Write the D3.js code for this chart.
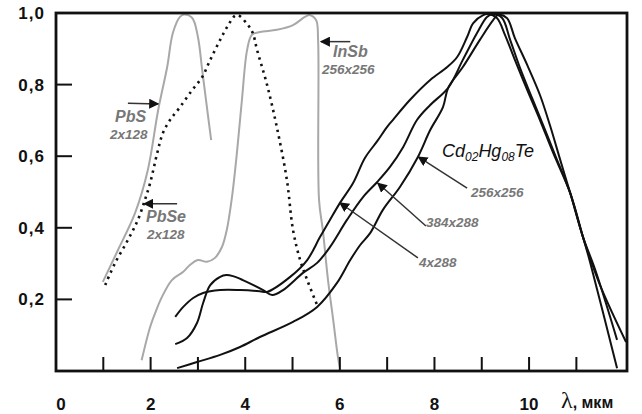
<!DOCTYPE html>
<html>
<head>
<meta charset="utf-8">
<script src="https://cdn.jsdelivr.net/npm/d3@7"></script>
<style>
  body { margin: 0; background: #fff; }
  text { font-family: Arial, "Liberation Sans", sans-serif; }
</style>
</head>
<body>
<svg width="642" height="414"></svg>
<script>
// tick values / labels
let xTicks = [1, 2, 3, 4, 5, 6, 7, 8, 9, 10, 11];
let xLabels = [0, 2, 4, 6, 8, 10];
let yTicks = [0.2, 0.4, 0.6, 0.8];
let yLabels = [0.2, 0.4, 0.6, 0.8, 1.0];

// spectral curves, [lambda, relative response]
let pbs = [[0.99, 0.249], [1.31, 0.338], [1.67, 0.441], [1.94, 0.561], [2.16, 0.729],
  [2.35, 0.849], [2.47, 0.944], [2.62, 0.989], [2.71, 0.996], [2.88, 0.986],
  [3.0, 0.933], [3.09, 0.841], [3.19, 0.737], [3.28, 0.645]];
let pbse = [[1.04, 0.24], [1.25, 0.302], [1.52, 0.366], [1.73, 0.422], [1.88, 0.478],
  [1.99, 0.525], [2.14, 0.609], [2.26, 0.665], [2.41, 0.701], [2.62, 0.737],
  [2.88, 0.785], [3.09, 0.821], [3.26, 0.869], [3.47, 0.925], [3.64, 0.966],
  [3.78, 0.992], [3.85, 0.994], [4.06, 0.966], [4.16, 0.944], [4.25, 0.897],
  [4.46, 0.8], [4.67, 0.68], [4.88, 0.534], [5.01, 0.394], [5.16, 0.31],
  [5.31, 0.254], [5.52, 0.184]];
let insb = [[1.81, 0.03], [1.99, 0.123], [2.12, 0.17], [2.24, 0.207], [2.45, 0.254],
  [2.69, 0.277], [2.83, 0.296], [3.0, 0.31], [3.19, 0.305], [3.36, 0.316],
  [3.51, 0.347], [3.61, 0.394], [3.72, 0.486], [3.83, 0.617], [3.93, 0.757],
  [4.04, 0.897], [4.14, 0.939], [4.31, 0.947], [4.67, 0.953], [5.01, 0.966],
  [5.26, 0.989], [5.37, 0.994], [5.5, 0.98], [5.54, 0.925], [5.56, 0.478],
  [5.64, 0.394], [5.75, 0.254], [5.86, 0.142], [5.96, 0.039], [6.0, 0.011]];
let cmt4x288 = [[2.52, 0.151], [2.69, 0.179], [2.9, 0.204], [3.11, 0.218], [3.47, 0.226],
  [3.89, 0.226], [4.31, 0.223], [4.46, 0.221], [4.95, 0.263], [5.31, 0.31],
  [5.58, 0.374], [5.79, 0.422], [6.0, 0.469], [6.28, 0.525], [6.53, 0.595],
  [6.79, 0.642], [7.0, 0.682], [7.12, 0.701], [7.48, 0.757], [7.91, 0.813],
  [8.27, 0.849], [8.48, 0.877], [8.69, 0.933], [8.82, 0.972], [9.03, 0.994],
  [9.13, 0.997], [9.32, 0.986], [9.49, 0.939], [9.7, 0.869], [9.96, 0.785],
  [10.23, 0.701], [10.51, 0.609], [10.87, 0.497], [11.14, 0.374], [11.29, 0.304],
  [11.86, 0.008]];
let cmt384x288 = [[2.52, 0.075], [2.77, 0.092], [2.98, 0.134], [3.11, 0.19], [3.26, 0.24],
  [3.47, 0.263], [3.6, 0.268], [3.74, 0.265], [3.95, 0.254], [4.38, 0.226],
  [4.57, 0.212], [4.8, 0.226], [5.22, 0.274], [5.52, 0.302], [5.79, 0.346],
  [6.15, 0.422], [6.49, 0.486], [6.79, 0.528], [7.06, 0.57], [7.34, 0.626],
  [7.63, 0.701], [7.91, 0.743], [8.29, 0.791], [8.6, 0.869], [8.9, 0.944],
  [9.11, 0.989], [9.24, 0.997], [9.43, 0.986], [9.6, 0.925], [9.81, 0.846],
  [10.08, 0.757], [10.34, 0.673], [10.55, 0.603], [10.87, 0.497], [11.14, 0.374],
  [11.4, 0.282], [11.86, 0.087]];
let cmt256x256 = [[2.56, 0.008], [2.98, 0.025], [3.47, 0.045], [3.89, 0.067], [4.31, 0.095],
  [5.01, 0.137], [5.52, 0.179], [5.94, 0.246], [6.22, 0.310], [6.43, 0.352],
  [6.64, 0.385], [6.91, 0.450], [7.27, 0.514], [7.65, 0.598], [7.91, 0.673],
  [8.18, 0.737], [8.29, 0.791], [8.6, 0.849], [8.96, 0.925], [9.24, 0.98],
  [9.34, 0.994], [9.53, 0.986], [9.7, 0.93], [9.96, 0.855], [10.23, 0.771],
  [10.44, 0.687], [10.66, 0.589], [10.87, 0.497], [11.14, 0.374], [11.5, 0.24],
  [12.05, 0.081]];

let svg = d3.select("svg");
let x = d3.scaleLinear().domain([0, 12.07]).range([56, 627]);
let y = d3.scaleLinear().domain([0, 1]).range([371, 13]);

let line = d3.line()
  .x(function(d) { return x(d[0]); })
  .y(function(d) { return y(d[1]); })
  .curve(d3.curveCatmullRom.alpha(0.5));

// curves
svg.append("path").datum(pbs).attr("d", line)
  .attr("fill", "none").attr("stroke", "#a8a8a8").attr("stroke-width", 2);
svg.append("path").datum(insb).attr("d", line)
  .attr("fill", "none").attr("stroke", "#a8a8a8").attr("stroke-width", 2);
svg.append("path").datum(pbse).attr("d", line)
  .attr("fill", "none").attr("stroke", "#111").attr("stroke-width", 2.6)
  .attr("stroke-dasharray", "2.4,4.4");
[cmt4x288, cmt384x288, cmt256x256].forEach(function(c) {
  svg.append("path").datum(c).attr("d", line)
    .attr("fill", "none").attr("stroke", "#111").attr("stroke-width", 2);
});

// frame
svg.append("rect")
  .attr("x", x(0)).attr("y", y(1))
  .attr("width", x(12.07) - x(0)).attr("height", y(0) - y(1))
  .attr("fill", "none").attr("stroke", "#111").attr("stroke-width", 2.8);

// ticks
svg.selectAll(".xt").data(xTicks).enter().append("line")
  .attr("x1", function(d) { return x(d); }).attr("x2", function(d) { return x(d); })
  .attr("y1", y(0)).attr("y2", y(0) - 14)
  .attr("stroke", "#111").attr("stroke-width", 2);
svg.selectAll(".yt").data(yTicks).enter().append("line")
  .attr("x1", x(0)).attr("x2", x(0) + 16)
  .attr("y1", function(d) { return y(d); }).attr("y2", function(d) { return y(d); })
  .attr("stroke", "#111").attr("stroke-width", 2);

svg.selectAll(".xl").data(xLabels).enter().append("text")
  .attr("x", function(d) { return d == 0 ? x(d) + 5 : x(d); })
  .attr("y", 410)
  .attr("text-anchor", "middle")
  .attr("font-size", 17).attr("font-weight", "bold").attr("fill", "#111")
  .text(function(d) { return d; });
svg.selectAll(".yl").data(yLabels).enter().append("text")
  .attr("x", 45)
  .attr("y", function(d) { return y(d) + 6; })
  .attr("text-anchor", "end")
  .attr("font-size", 17).attr("font-weight", "bold").attr("fill", "#111")
  .attr("letter-spacing", 1)
  .text(function(d) { return d3.format(".1f")(d).replace(".", ","); });

let xt = svg.append("text").attr("x", 561).attr("y", 408).attr("fill", "#111");
xt.append("tspan").attr("font-family", "'Liberation Serif', 'DejaVu Serif', serif")
  .attr("font-size", 24).text("λ");
xt.append("tspan").attr("font-size", 16).attr("font-weight", "bold").text(", мкм");

// annotations
svg.append("defs").append("marker")
  .attr("id", "ah").attr("viewBox", "0 0 10 10").attr("refX", 9).attr("refY", 5)
  .attr("markerWidth", 10).attr("markerHeight", 10).attr("markerUnits", "userSpaceOnUse")
  .attr("orient", "auto")
  .append("path").attr("d", "M0,0 L10,5 L0,10 Z").attr("fill", "#111");

function arrow(x1, y1, x2, y2) {
  svg.append("line")
    .attr("x1", x(x1)).attr("y1", y(y1)).attr("x2", x(x2)).attr("y2", y(y2))
    .attr("stroke", "#333").attr("stroke-width", 1.5)
    .attr("marker-end", "url(#ah)");
}
function label(px, py, txt, size) {
  svg.append("text").attr("x", px).attr("y", py)
    .attr("font-size", size).attr("font-weight", "bold").attr("font-style", "italic")
    .attr("fill", "#777").text(txt);
}

arrow(1.52, 0.748, 2.16, 0.746);
label(115, 122, "PbS", 16);
label(110, 139, "2x128", 13.5);

arrow(2.56, 0.467, 1.86, 0.467);
label(146, 222, "PbSe", 16);
label(147, 239, "2x128", 13.5);

arrow(6.22, 0.92, 5.6, 0.92);
label(333, 57, "InSb", 16);
label(322, 74, "256x256", 13.5);

arrow(8.69, 0.511, 7.66, 0.598);
label(471, 197, "256x256", 13.5);
arrow(7.82, 0.405, 6.8, 0.525);
label(426, 227, "384x288", 13.5);
arrow(7.65, 0.316, 6.0, 0.47);
label(419, 267, "4x288", 13.5);

let cd = svg.append("text").attr("x", 442).attr("y", 157)
  .attr("font-size", 18).attr("font-style", "italic").attr("fill", "#111");
cd.append("tspan").text("Cd");
cd.append("tspan").attr("font-size", 12).attr("dy", 4).text("02");
cd.append("tspan").attr("dy", -4).text("Hg");
cd.append("tspan").attr("font-size", 12).attr("dy", 4).text("08");
cd.append("tspan").attr("dy", -4).text("Te");
</script>
</body>
</html>
